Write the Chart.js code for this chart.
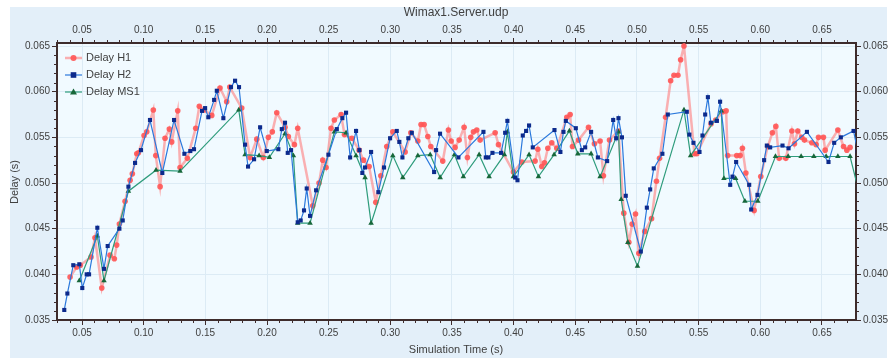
<!DOCTYPE html>
<html>
<head>
<meta charset="utf-8">
<script src="https://cdn.jsdelivr.net/npm/chart.js@4.4.0/dist/chart.umd.min.js"></script>
<style>
  html, body { margin: 0; padding: 0; background: #fff; }
  canvas { display: block; }
</style>
</head>
<body>
<canvas id="delayChart" width="889" height="358"></canvas>
<script>
// Data (simulation time in s, delay in s)
const h1Time = [0.0403, 0.0457, 0.0486, 0.0573, 0.0605, 0.0660, 0.0727, 0.0762, 0.0781, 0.0803,
  0.0849, 0.0890, 0.0908, 0.0944, 0.0957, 0.1003, 0.1025, 0.1078, 0.1098, 0.1133,
  0.1173, 0.1208, 0.1227, 0.1276, 0.1295, 0.1354, 0.1422, 0.1451, 0.1492, 0.1552,
  0.1619, 0.1673, 0.1698, 0.1795, 0.1863, 0.1917, 0.1970, 0.2011, 0.2043, 0.2079,
  0.2146, 0.2173, 0.2222, 0.2249, 0.2371, 0.2422, 0.2452, 0.2479, 0.2519, 0.2546,
  0.2601, 0.2628, 0.2688, 0.2747, 0.2782, 0.2828, 0.2882, 0.2923, 0.2971, 0.3020,
  0.3120, 0.3166, 0.3223, 0.3249, 0.3274, 0.3304, 0.3328, 0.3425, 0.3471, 0.3493,
  0.3525, 0.3558, 0.3598, 0.3625, 0.3652, 0.3674, 0.3701, 0.3728, 0.3850, 0.3877,
  0.3998, 0.4066, 0.4174, 0.4196, 0.4228, 0.4250, 0.4277, 0.4309, 0.4350, 0.4431,
  0.4458, 0.4477, 0.4526, 0.4607, 0.4655, 0.4701, 0.4728, 0.4777, 0.4850, 0.4893,
  0.4934, 0.4961, 0.4988, 0.5015, 0.5063, 0.5118, 0.5158, 0.5183, 0.5232, 0.5273,
  0.5300, 0.5332, 0.5354, 0.5381, 0.5466, 0.5485, 0.5601, 0.5639, 0.5696, 0.5723,
  0.5735, 0.5809, 0.5836, 0.5855, 0.5883, 0.5950, 0.6004, 0.6060, 0.6098, 0.6126,
  0.6153, 0.6207, 0.6256, 0.6277, 0.6304, 0.6336, 0.6358, 0.6418, 0.6453, 0.6472,
  0.6512, 0.6526, 0.6629, 0.6675, 0.6702, 0.6728];
const h1Delay = [0.0397, 0.0408, 0.0410, 0.0419, 0.0440, 0.0385, 0.0421, 0.0417, 0.0432, 0.0455,
  0.0480, 0.0503, 0.0510, 0.0532, 0.0533, 0.0552, 0.0556, 0.0580, 0.0530, 0.0496,
  0.0549, 0.0559, 0.0545, 0.0579, 0.0517, 0.0527, 0.0560, 0.0584, 0.0580, 0.0574,
  0.0604, 0.0589, 0.0605, 0.0582, 0.0528, 0.0548, 0.0528, 0.0550, 0.0556, 0.0577,
  0.0561, 0.0551, 0.0542, 0.0560, 0.0475, 0.0500, 0.0525, 0.0517, 0.0560, 0.0569,
  0.0575, 0.0553, 0.0549, 0.0536, 0.0525, 0.0518, 0.0479, 0.0508, 0.0540, 0.0556,
  0.0534, 0.0555, 0.0546, 0.0564, 0.0564, 0.0551, 0.0540, 0.0524, 0.0558, 0.0546,
  0.0539, 0.0547, 0.0561, 0.0528, 0.0550, 0.0556, 0.0558, 0.0547, 0.0555, 0.0542,
  0.0512, 0.0523, 0.0524, 0.0537, 0.0518, 0.0522, 0.0538, 0.0544, 0.0538, 0.0572,
  0.0575, 0.0540, 0.0547, 0.0561, 0.0543, 0.0546, 0.0508, 0.0547, 0.0557, 0.0467,
  0.0435, 0.0455, 0.0466, 0.0423, 0.0447, 0.0461, 0.0502, 0.0527, 0.0572, 0.0612,
  0.0618, 0.0618, 0.0635, 0.0650, 0.0532, 0.0532, 0.0565, 0.0569, 0.0578, 0.0579,
  0.0530, 0.0530, 0.0530, 0.0538, 0.0511, 0.0470, 0.0507, 0.0540, 0.0555, 0.0562,
  0.0527, 0.0527, 0.0557, 0.0543, 0.0557, 0.0550, 0.0547, 0.0544, 0.0542, 0.0550,
  0.0550, 0.0536, 0.0558, 0.0540, 0.0536, 0.0539];

const h2Time = [0.0356, 0.0381, 0.0429, 0.0478, 0.0502, 0.0538, 0.0557, 0.0624, 0.0678, 0.0708,
  0.0803, 0.0830, 0.0876, 0.0930, 0.0978, 0.1051, 0.1151, 0.1246, 0.1330, 0.1378,
  0.1408, 0.1473, 0.1498, 0.1524, 0.1571, 0.1593, 0.1646, 0.1708, 0.1741, 0.1773,
  0.1822, 0.1846, 0.1895, 0.1944, 0.1998, 0.2092, 0.2120, 0.2146, 0.2168, 0.2195,
  0.2249, 0.2273, 0.2300, 0.2322, 0.2349, 0.2398, 0.2498, 0.2566, 0.2611, 0.2641,
  0.2674, 0.2722, 0.2749, 0.2773, 0.2795, 0.2844, 0.2903, 0.2949, 0.2998, 0.3052,
  0.3073, 0.3098, 0.3146, 0.3174, 0.3355, 0.3371, 0.3403, 0.3552, 0.3755, 0.3774,
  0.3795, 0.3828, 0.3898, 0.3931, 0.3949, 0.4012, 0.4031, 0.4074, 0.4101, 0.4125,
  0.4155, 0.4331, 0.4379, 0.4404, 0.4423, 0.4504, 0.4553, 0.4580, 0.4628, 0.4683,
  0.4758, 0.4807, 0.4831, 0.4850, 0.4878, 0.4909, 0.5031, 0.5080, 0.5107, 0.5136,
  0.5206, 0.5250, 0.5404, 0.5425, 0.5458, 0.5507, 0.5531, 0.5553, 0.5575, 0.5599,
  0.5648, 0.5674, 0.5756, 0.5775, 0.5804, 0.5910, 0.5926, 0.5977, 0.6031, 0.6053,
  0.6080, 0.6180, 0.6229, 0.6378, 0.6553, 0.6599, 0.6653, 0.6756, 0.6790];
const h2Delay = [0.0361, 0.0379, 0.0410, 0.0411, 0.0385, 0.0400, 0.0400, 0.0451, 0.0406, 0.0431,
  0.0450, 0.0459, 0.0496, 0.0522, 0.0536, 0.0569, 0.0511, 0.0569, 0.0532, 0.0535,
  0.0537, 0.0579, 0.0582, 0.0572, 0.0591, 0.0601, 0.0571, 0.0605, 0.0612, 0.0605,
  0.0542, 0.0518, 0.0526, 0.0561, 0.0535, 0.0537, 0.0559, 0.0566, 0.0533, 0.0536,
  0.0457, 0.0459, 0.0470, 0.0494, 0.0464, 0.0492, 0.0531, 0.0559, 0.0571, 0.0577,
  0.0528, 0.0557, 0.0536, 0.0511, 0.0517, 0.0534, 0.0490, 0.0517, 0.0549, 0.0557,
  0.0545, 0.0528, 0.0549, 0.0555, 0.0512, 0.0536, 0.0554, 0.0528, 0.0556, 0.0528,
  0.0528, 0.0533, 0.0533, 0.0555, 0.0568, 0.0506, 0.0503, 0.0552, 0.0557, 0.0563,
  0.0539, 0.0558, 0.0534, 0.0556, 0.0568, 0.0560, 0.0536, 0.0539, 0.0556, 0.0528,
  0.0524, 0.0569, 0.0549, 0.0571, 0.0550, 0.0486, 0.0425, 0.0473, 0.0493, 0.0516,
  0.0532, 0.0575, 0.0578, 0.0553, 0.0544, 0.0534, 0.0552, 0.0575, 0.0594, 0.0566,
  0.0568, 0.0589, 0.0498, 0.0507, 0.0523, 0.0498, 0.0471, 0.0487, 0.0525, 0.0541,
  0.0539, 0.0541, 0.0538, 0.0556, 0.0523, 0.0544, 0.0550, 0.0557, 0.0535];

const ms1Time = [0.0478, 0.0624, 0.0678, 0.0876, 0.1100, 0.1295, 0.1771, 0.1822, 0.1936, 0.2019,
  0.2146, 0.2214, 0.2249, 0.2349, 0.2546, 0.2641, 0.2722, 0.2795, 0.2844, 0.3020,
  0.3101, 0.3223, 0.3323, 0.3404, 0.3520, 0.3592, 0.3720, 0.3801, 0.3925, 0.3949,
  0.3998, 0.4125, 0.4201, 0.4328, 0.4452, 0.4520, 0.4628, 0.4701, 0.4850, 0.4872,
  0.4926, 0.5004, 0.5381, 0.5435, 0.5684, 0.5705, 0.5800, 0.5875, 0.5980, 0.6123,
  0.6226, 0.6331, 0.6434, 0.6534, 0.6629, 0.6728, 0.6800];
const ms1Delay = [0.0393, 0.0442, 0.0393, 0.0491, 0.0514, 0.0513, 0.0580, 0.0531, 0.0530, 0.0528,
  0.0554, 0.0530, 0.0456, 0.0456, 0.0556, 0.0555, 0.0530, 0.0506, 0.0456, 0.0530,
  0.0506, 0.0530, 0.0531, 0.0506, 0.0531, 0.0507, 0.0531, 0.0507, 0.0531, 0.0556,
  0.0507, 0.0531, 0.0507, 0.0531, 0.0557, 0.0532, 0.0532, 0.0507, 0.0556, 0.0482,
  0.0435, 0.0409, 0.0580, 0.0530, 0.0579, 0.0505, 0.0505, 0.0480, 0.0480, 0.0529,
  0.0529, 0.0529, 0.0529, 0.0529, 0.0529, 0.0529, 0.0490];

const xTicks = [0.05, 0.10, 0.15, 0.20, 0.25, 0.30, 0.35, 0.40, 0.45, 0.50, 0.55, 0.60, 0.65];
const yTicks = [0.035, 0.040, 0.045, 0.050, 0.055, 0.060, 0.065];

const X_MIN = 0.0297, X_MAX = 0.6776;
const Y_MIN = 0.035, Y_MAX = 0.06533;

const FONT = 'Liberation Sans, Arial, sans-serif';
const textColor = '#404040';
const frameColor = '#3e2c2c';
const gridColor = '#dcebf5';

function toPoints(xs, ys) {
  return xs.map((x, i) => ({ x: x, y: ys[i] }));
}

// background panel + plot area fill
const backdrop = {
  id: 'backdrop',
  beforeDraw(chart) {
    const { ctx, chartArea: a } = chart;
    ctx.save();
    ctx.fillStyle = '#ffffff';
    ctx.fillRect(0, 0, chart.width, chart.height);
    ctx.fillStyle = '#e3eff9';
    ctx.fillRect(10, 7, 877, 351);
    ctx.fillStyle = '#f1faff';
    ctx.fillRect(a.left, a.top, a.right - a.left, a.bottom - a.top);
    ctx.restore();
  }
};

// small ticks between the labelled ones, on all four sides
const minorTicks = {
  id: 'minorTicks',
  afterDraw(chart) {
    const { ctx, chartArea: a, scales } = chart;
    ctx.save();
    ctx.strokeStyle = frameColor;
    ctx.lineWidth = 1;
    ctx.beginPath();
    for (let i = 3; i <= 68; i++) {
      if (i % 5 === 0) continue;
      const px = Math.round(scales.x.getPixelForValue(i / 100)) + 0.5;
      if (px < a.left || px > a.right) continue;
      ctx.moveTo(px, a.bottom); ctx.lineTo(px, a.bottom + 3);
      ctx.moveTo(px, a.top); ctx.lineTo(px, a.top - 3);
    }
    for (let i = 35; i <= 65; i++) {
      if (i % 5 === 0) continue;
      const py = Math.round(scales.y.getPixelForValue(i / 1000)) + 0.5;
      ctx.moveTo(a.left, py); ctx.lineTo(a.left - 3, py);
      ctx.moveTo(a.right, py); ctx.lineTo(a.right + 3, py);
    }
    ctx.stroke();

    // titles
    ctx.fillStyle = textColor;
    ctx.textAlign = 'center';
    ctx.textBaseline = 'middle';
    ctx.font = '12px ' + FONT;
    ctx.fillText('Wimax1.Server.udp', 456, 13);
    ctx.font = '11px ' + FONT;
    ctx.fillText('Simulation Time (s)', 456, 350);
    ctx.translate(15, 182);
    ctx.rotate(-Math.PI / 2);
    ctx.fillText('Delay (s)', 0, 0);
    ctx.restore();
  }
};

// legend drawn inside the plot, top-left
const insideLegend = {
  id: 'insideLegend',
  afterDatasetsDraw(chart) {
    const { ctx } = chart;
    const rows = [58, 75, 92];
    ctx.save();
    chart.data.datasets.forEach((ds, i) => {
      const y = rows[i];
      ctx.strokeStyle = ds.borderColor;
      ctx.lineWidth = ds.borderWidth;
      ctx.beginPath();
      ctx.moveTo(65, y); ctx.lineTo(82, y);
      ctx.stroke();
      ctx.fillStyle = ds.pointBackgroundColor;
      ctx.beginPath();
      if (ds.pointStyle === 'circle') {
        ctx.arc(73.5, y, 3, 0, Math.PI * 2);
      } else if (ds.pointStyle === 'rect') {
        ctx.rect(70.7, y - 2.8, 5.6, 5.6);
      } else {
        ctx.moveTo(73.5, y - 3.5); ctx.lineTo(77, y + 2.5); ctx.lineTo(70, y + 2.5); ctx.closePath();
      }
      ctx.fill();
      ctx.fillStyle = textColor;
      ctx.font = '11px ' + FONT;
      ctx.textAlign = 'left';
      ctx.textBaseline = 'middle';
      ctx.fillText(ds.label, 86, y);
    });
    ctx.restore();
  }
};

const tickFont = { family: FONT, size: 10 };

function xScale(pos, height, onArea) {
  return {
    type: 'linear', position: pos, min: X_MIN, max: X_MAX,
    afterBuildTicks: s => { s.ticks = xTicks.map(v => ({ value: v })); },
    afterFit: s => { s.height = height; },
    ticks: { callback: v => v.toFixed(2), font: tickFont, color: textColor, padding: 2, maxRotation: 0, autoSkip: false },
    grid: { color: gridColor, drawOnChartArea: onArea, tickColor: frameColor, tickLength: 5 },
    border: { color: frameColor, width: 2 }
  };
}
function yScale(pos, width, onArea) {
  return {
    type: 'linear', position: pos, min: Y_MIN, max: Y_MAX,
    afterBuildTicks: s => { s.ticks = yTicks.map(v => ({ value: v })); },
    afterFit: s => { s.width = width; },
    ticks: { callback: v => v.toFixed(3), font: tickFont, color: textColor, padding: 2, autoSkip: false },
    grid: { color: gridColor, drawOnChartArea: onArea, tickColor: frameColor, tickLength: 5 },
    border: { color: frameColor, width: 2 }
  };
}

const ctx = document.getElementById('delayChart').getContext('2d');
const delayChart = new Chart(ctx, {
  type: 'line',
  data: {
    datasets: [{
      label: 'Delay H1',
      data: toPoints(h1Time, h1Delay),
      borderColor: 'rgba(255, 125, 125, 0.6)',
      borderWidth: 2.5,
      pointStyle: 'circle',
      pointRadius: 2.8,
      pointBackgroundColor: 'rgba(255, 85, 85, 0.9)',
      pointBorderWidth: 0,
      order: 3
    }, {
      label: 'Delay H2',
      data: toPoints(h2Time, h2Delay),
      borderColor: '#2a78dc',
      borderWidth: 1.2,
      pointStyle: 'rect',
      pointRadius: 2.9,
      pointBackgroundColor: '#0c2a8c',
      pointBorderWidth: 0,
      order: 1
    }, {
      label: 'Delay MS1',
      data: toPoints(ms1Time, ms1Delay),
      borderColor: '#2e9c7c',
      borderWidth: 1.2,
      pointStyle: 'triangle',
      pointRadius: 3.2,
      pointBackgroundColor: '#17673a',
      pointBorderWidth: 0,
      order: 2
    }]
  },
  options: {
    responsive: false,
    animation: false,
    layout: { padding: 0 },
    plugins: { legend: { display: false }, tooltip: { enabled: false }, title: { display: false } },
    scales: {
      x: xScale('bottom', 38, true),
      xTop: xScale('top', 43, false),
      y: yScale('left', 57, true),
      yRight: yScale('right', 33, false)
    }
  },
  plugins: [backdrop, minorTicks, insideLegend]
});
</script>
</body>
</html>
